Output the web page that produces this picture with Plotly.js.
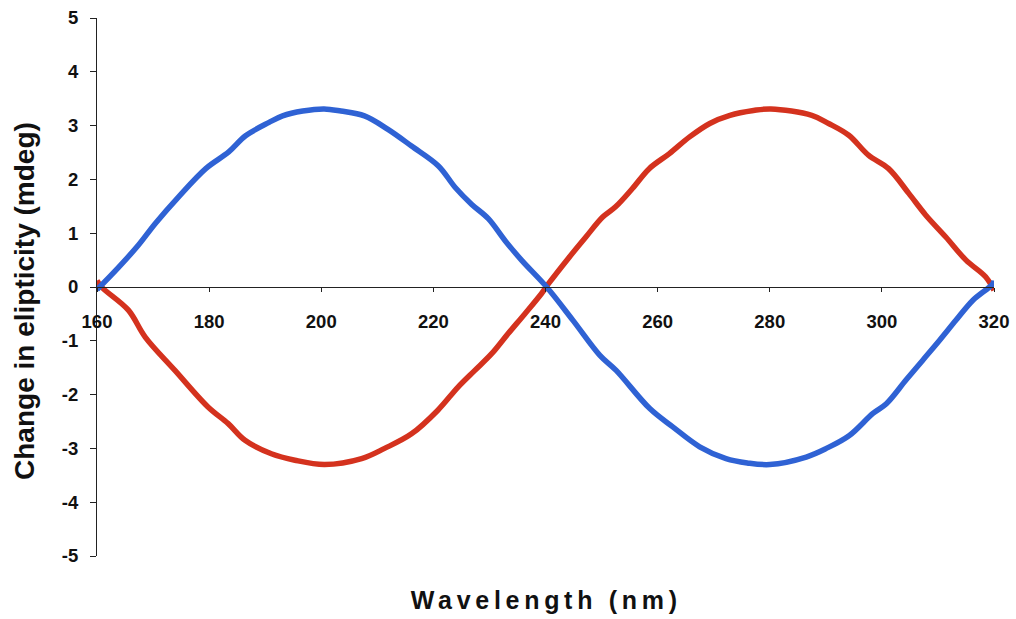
<!DOCTYPE html>
<html>
<head>
<meta charset="utf-8">
<script src="https://cdn.plot.ly/plotly-3.0.1.min.js"></script>
<style>
  html, body { margin: 0; padding: 0; background: #ffffff; }
  #chart { width: 1016px; height: 619px; }
</style>
</head>
<body>
<div id="chart"></div>
<script>
// Wavelength (nm) and ellipticity change (mdeg) for the two traces
const blueWavelength = [160, 163.8, 167.4, 170.4, 174.6, 179.4, 183.5, 186.5, 190.7, 193.1, 196.7, 200.5,
  203.5, 207.7, 211.9, 216.1, 220.9, 223.9, 226.8, 229.8, 232.8, 235.8, 240.2,
  244.9, 249.7, 252.6, 258.6, 262.7, 267.5, 272.2, 276.0, 280.0, 286.5, 290.1, 294.2, 298.4, 300.8,
  304.3, 307.3, 310.3, 313.2, 316.2, 319.8, 320];
const blueValue = [-0.05, 0.36, 0.78, 1.18, 1.68, 2.20, 2.51, 2.81, 3.06, 3.18, 3.27, 3.31,
  3.27, 3.18, 2.93, 2.62, 2.25, 1.85, 1.54, 1.27, 0.86, 0.49, 0.00,
  -0.62, -1.27, -1.55, -2.26, -2.60, -2.97, -3.19, -3.27, -3.30, -3.16, -3.00, -2.76, -2.35, -2.17,
  -1.73, -1.36, -0.99, -0.62, -0.25, 0.06, 0.12];

const redWavelength = [160, 160.8, 165.6, 168.6, 173.9, 179.8, 183.4, 186.4, 191.1, 195.3, 200.6,
  207.2, 211.3, 216.1, 220.8, 224.4, 227.4, 230.4, 233.3, 236.3, 239.3,
  240.6, 244.2, 247.2, 250.2, 252.5, 255.5, 258.5, 262.1, 265.7, 269.3, 272.9, 277.1, 280.2,
  287.5, 290.5, 294.1, 297.6, 301.2, 304.8, 307.8, 311.4, 315.0, 318.5, 320];
const redValue = [0.12, 0.00, -0.43, -0.93, -1.55, -2.23, -2.54, -2.85, -3.10, -3.22, -3.30,
  -3.19, -3.00, -2.73, -2.29, -1.86, -1.55, -1.24, -0.87, -0.50, -0.12,
  0.07, 0.55, 0.93, 1.30, 1.49, 1.83, 2.20, 2.48, 2.79, 3.04, 3.19, 3.28, 3.31,
  3.19, 3.04, 2.82, 2.45, 2.20, 1.74, 1.34, 0.93, 0.50, 0.19, -0.06];

const xTicks = [160, 180, 200, 220, 240, 260, 280, 300, 320];
const yTicks = [-5, -4, -3, -2, -1, 0, 1, 2, 3, 4, 5];

const tickFont = { family: 'Arial, "Liberation Sans", sans-serif', size: 18.5, color: '#111111', weight: 'bold' };
const titleFont = { family: 'Arial, "Liberation Sans", sans-serif', color: '#111111', weight: 'bold' };

const traces = [
  {
    x: redWavelength, y: redValue, type: 'scatter', mode: 'lines',
    line: { color: '#d4321e', width: 5.5, shape: 'spline', smoothing: 1 },
    hoverinfo: 'skip', showlegend: false
  },
  {
    x: blueWavelength, y: blueValue, type: 'scatter', mode: 'lines',
    line: { color: '#2f62d4', width: 5.5, shape: 'spline', smoothing: 1 },
    hoverinfo: 'skip', showlegend: false
  }
];

const layout = {
  width: 1016, height: 619,
  margin: { l: 97, r: 22, t: 18, b: 63 },
  paper_bgcolor: '#ffffff', plot_bgcolor: '#ffffff',
  showlegend: false,
  xaxis: {
    range: [160, 320], tickvals: xTicks, ticktext: xTicks.map(String),
    anchor: 'free', position: 0.5,
    showline: true, linecolor: '#222222', linewidth: 1,
    ticks: 'outside', ticklen: 4, tickcolor: '#222222',
    showgrid: false, zeroline: false,
    tickfont: tickFont, ticklabelstandoff: 14
  },
  yaxis: {
    range: [-5, 5], tickvals: yTicks, ticktext: yTicks.map(String),
    showline: true, linecolor: '#222222', linewidth: 1,
    ticks: 'outside', ticklen: 6, tickcolor: '#222222',
    showgrid: false, zeroline: false,
    tickfont: tickFont, ticklabelstandoff: 8
  },
  annotations: [
    {
      text: 'Change in elipticity (mdeg)', xref: 'paper', yref: 'paper',
      x: -0.0803, y: 0.474, xanchor: 'center', yanchor: 'middle',
      textangle: -90, showarrow: false, font: Object.assign({ size: 28 }, titleFont)
    },
    {
      text: 'Wavelength (nm)', xref: 'paper', yref: 'paper',
      x: 0.5006, y: -0.0818, xanchor: 'center', yanchor: 'middle',
      showarrow: false, font: Object.assign({ size: 25 }, titleFont)
    }
  ]
};

Plotly.newPlot('chart', traces, layout, { staticPlot: true, displayModeBar: false }).then(function (gd) {
  // widen the letter spacing of the wavelength caption
  const anns = gd.querySelectorAll('.annotation');
  if (anns.length > 1) {
    const t = anns[1].querySelector('text.annotation-text');
    if (t) t.style.letterSpacing = '4.7px';
  }
});
</script>
</body>
</html>
